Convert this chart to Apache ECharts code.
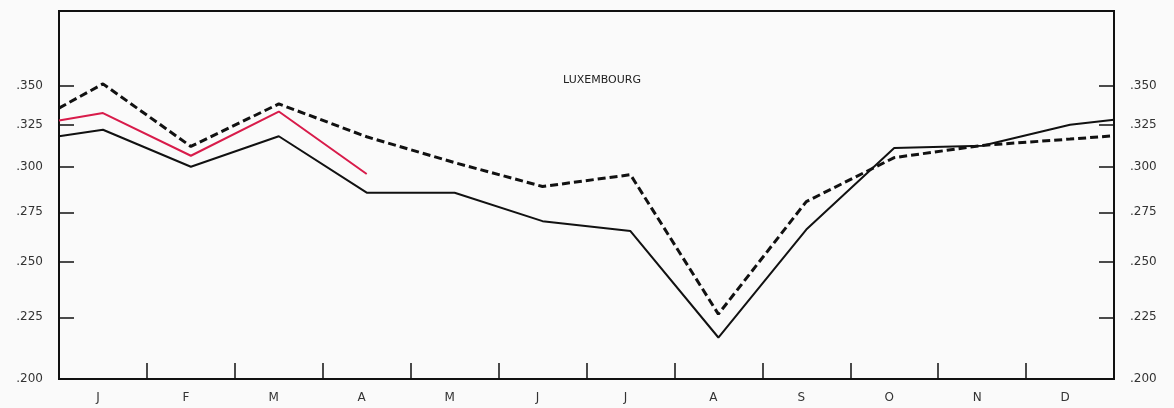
<!DOCTYPE html>
<html>
<head>
<meta charset="utf-8">
<script src="https://cdn.jsdelivr.net/npm/echarts@6/dist/echarts.min.js"></script>
<style>
  html, body { margin: 0; padding: 0; background: #fafafa; }
  #main { width: 1174px; height: 408px; }
</style>
</head>
<body>
<div id="main"></div>
<script>
// months on the x axis
var months = ['J', 'F', 'M', 'A', 'M', 'J', 'J', 'A', 'S', 'O', 'N', 'D'];
var yTicks = [0.200, 0.225, 0.250, 0.275, 0.300, 0.325, 0.350];

// solid black line: value at left edge, 12 months, value at right edge
var solidStart = 0.318;
var solidMonths = [0.322, 0.300, 0.318, 0.2855, 0.2855, 0.2704, 0.2653, 0.2165, 0.2661, 0.3109, 0.3123, 0.3251];
var solidEnd = 0.3282;

// red line (Jan - Apr only)
var redStart = 0.3277;
var redMonths = [0.3324, 0.3064, 0.3334, 0.2959];

// dashed line
var dashStart = 0.3356;
var dashMonths = [0.3515, 0.3119, 0.3383, 0.3177, 0.3024, 0.2889, 0.2955, 0.2264, 0.2807, 0.3053, 0.3125, 0.3163];
var dashEnd = 0.3183;

function build(start, vals, end) {
  var out = [[-0.5, start]];
  vals.forEach(function (v, i) { out.push([i, v]); });
  if (end != null) out.push([11.5, end]);
  return out;
}

var myChart = echarts.init(document.getElementById('main'));

var yLabelFmt = function (v) { return '.' + Number(v).toFixed(3).split('.')[1]; };

function yAxisFor(pos) {
  return {
    type: 'log',
    position: pos,
    min: 0.2,
    max: 0.404,
    axisLine: { show: true, onZero: false, lineStyle: { color: '#111', width: 2 } },
    axisTick: { show: true, inside: true, length: 15, customValues: yTicks, lineStyle: { color: '#111', width: 1.5 } },
    axisLabel: {
      customValues: yTicks,
      formatter: yLabelFmt,
      margin: 16,
      color: '#333',
      fontSize: 12,
      fontFamily: 'DejaVu Sans',
      padding: [0, 0, 8, 0]
    },
    splitLine: { show: false },
    minorTick: { show: false }
  };
}

var option = {
  backgroundColor: '#fafafa',
  animation: false,
  title: {
    text: 'LUXEMBOURG',
    left: 597,
    top: 70,
    textAlign: 'center',
    textStyle: { fontSize: 11, fontWeight: 'normal', color: '#222', fontFamily: 'DejaVu Sans' }
  },
  grid: {
    left: 59, right: 60, top: 11, bottom: 29,
    show: true, borderColor: '#111', borderWidth: 2, backgroundColor: 'transparent'
  },
  xAxis: {
    type: 'value',
    min: -0.5,
    max: 11.5,
    axisLine: { show: true, onZero: false, lineStyle: { color: '#111', width: 2 } },
    axisTick: {
      show: true, inside: true, length: 16,
      customValues: [0.5, 1.5, 2.5, 3.5, 4.5, 5.5, 6.5, 7.5, 8.5, 9.5, 10.5],
      lineStyle: { color: '#111', width: 1.5 }
    },
    axisLabel: {
      customValues: [0, 1, 2, 3, 4, 5, 6, 7, 8, 9, 10, 11],
      formatter: function (v) { return months[Math.round(v)]; },
      margin: 13,
      color: '#333',
      fontSize: 12,
      fontFamily: 'DejaVu Sans',
      padding: [0, 10, 0, 0]
    },
    splitLine: { show: false }
  },
  yAxis: [yAxisFor('left'), yAxisFor('right')],
  series: [
    {
      name: 'solid',
      type: 'line',
      data: build(solidStart, solidMonths, solidEnd),
      symbol: 'none',
      lineStyle: { color: '#111', width: 2 }
    },
    {
      name: 'red',
      type: 'line',
      data: build(redStart, redMonths, null),
      symbol: 'none',
      lineStyle: { color: '#d81b4a', width: 2 }
    },
    {
      name: 'dashed',
      type: 'line',
      data: build(dashStart, dashMonths, dashEnd),
      symbol: 'none',
      lineStyle: { color: '#111', width: 3, type: [8, 4] }
    }
  ]
};

myChart.setOption(option);
</script>
</body>
</html>
